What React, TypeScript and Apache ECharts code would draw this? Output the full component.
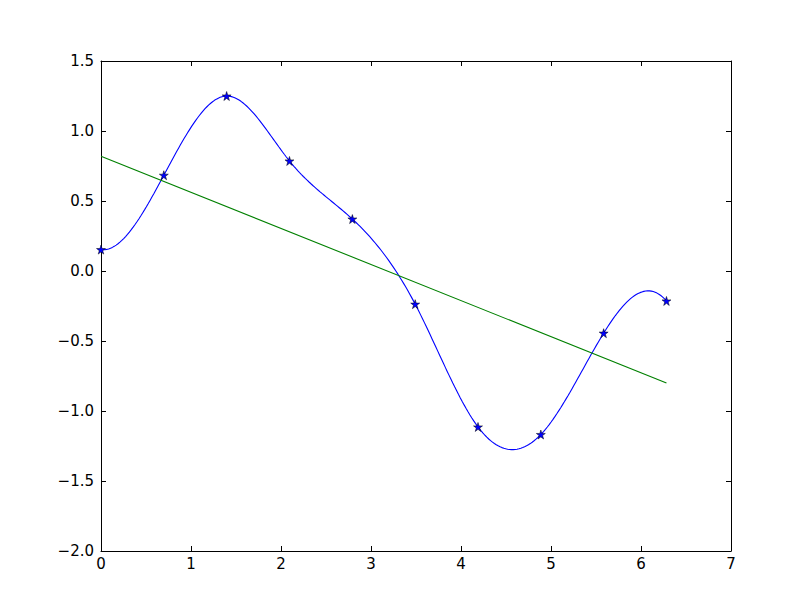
import React, { useEffect, useRef } from "react";
import * as echarts from "echarts";

// Sample points (stars)
const pointX = [0, 0.698, 1.396, 2.094, 2.793, 3.491, 4.189, 4.887, 5.585, 6.283];
const pointY = [0.153, 0.684, 1.25, 0.786, 0.371, -0.237, -1.114, -1.168, -0.444, -0.214];

// Linear fit line endpoints
const fitX = [0, 6.283];
const fitY = [0.82, -0.8];

// Axis ranges / ticks
const xTicks = [0, 1, 2, 3, 4, 5, 6, 7];
const yTicks = [-2.0, -1.5, -1.0, -0.5, 0.0, 0.5, 1.0, 1.5];

// Not-a-knot cubic spline through the sample points (as the original plot's interpolation)
function spline(xs: number[], ys: number[], count: number): number[][] {
  const n = xs.length;
  const h: number[] = [];
  for (let i = 0; i < n - 1; i++) h.push(xs[i + 1] - xs[i]);
  const A: number[][] = [];
  const b: number[] = [];
  for (let i = 0; i < n; i++) {
    A.push(new Array(n).fill(0));
    b.push(0);
  }
  A[0][0] = -h[1];
  A[0][1] = h[1] + h[0];
  A[0][2] = -h[0];
  for (let i = 1; i < n - 1; i++) {
    A[i][i - 1] = h[i - 1];
    A[i][i] = 2 * (h[i - 1] + h[i]);
    A[i][i + 1] = h[i];
    b[i] = 6 * ((ys[i + 1] - ys[i]) / h[i] - (ys[i] - ys[i - 1]) / h[i - 1]);
  }
  const m = n - 1;
  A[m][m - 2] = -h[m - 1];
  A[m][m - 1] = h[m - 1] + h[m - 2];
  A[m][m] = -h[m - 2];
  for (let c = 0; c < n; c++) {
    let p = c;
    for (let r = c + 1; r < n; r++) if (Math.abs(A[r][c]) > Math.abs(A[p][c])) p = r;
    [A[c], A[p]] = [A[p], A[c]];
    [b[c], b[p]] = [b[p], b[c]];
    for (let r = c + 1; r < n; r++) {
      const f = A[r][c] / A[c][c];
      for (let k = c; k < n; k++) A[r][k] -= f * A[c][k];
      b[r] -= f * b[c];
    }
  }
  const M = new Array(n).fill(0);
  for (let r = n - 1; r >= 0; r--) {
    let s = b[r];
    for (let k = r + 1; k < n; k++) s -= A[r][k] * M[k];
    M[r] = s / A[r][r];
  }
  const out: number[][] = [];
  const x0 = xs[0];
  const x1 = xs[n - 1];
  for (let j = 0; j < count; j++) {
    const x = x0 + ((x1 - x0) * j) / (count - 1);
    let i = 0;
    while (i < n - 2 && x > xs[i + 1]) i++;
    const hi = h[i];
    const a = xs[i + 1] - x;
    const d = x - xs[i];
    const y =
      (M[i] * a * a * a) / (6 * hi) +
      (M[i + 1] * d * d * d) / (6 * hi) +
      (ys[i] / hi - (M[i] * hi) / 6) * a +
      (ys[i + 1] / hi - (M[i + 1] * hi) / 6) * d;
    out.push([x, y]);
  }
  return out;
}

const STAR =
  "path://M0,-1 L0.2245,-0.309 L0.951,-0.309 L0.363,0.118 L0.588,0.809 L0,0.382 L-0.588,0.809 L-0.363,0.118 L-0.951,-0.309 L-0.2245,-0.309 Z";

const minus = (s: string) => s.replace("-", "\u2212");

function makeAxis(kind: "x" | "y", position: string, labels: boolean) {
  const ticks = kind === "x" ? xTicks : yTicks;
  return {
    type: "value",
    min: ticks[0],
    max: ticks[ticks.length - 1],
    interval: kind === "x" ? 1 : 0.5,
    position,
    axisLine: { show: true, onZero: false, lineStyle: { color: "#000", width: 1 } },
    axisTick: { show: true, inside: true, length: 5, lineStyle: { color: "#000", width: 1 } },
    splitLine: { show: false },
    axisLabel: {
      show: labels,
      fontFamily: "'DejaVu Sans', sans-serif",
      fontSize: 15,
      color: "#000",
      margin: kind === "x" ? 5 : 7,
      formatter: (v: number) => (kind === "x" ? minus(String(v)) : minus(v.toFixed(1))),
    },
  };
}

export default function App() {
  const ref = useRef<HTMLDivElement>(null);
  useEffect(() => {
    document.body.style.margin = "0";
    const chart = echarts.init(ref.current!, null, { renderer: "svg" });
    chart.setOption({
      animation: false,
      backgroundColor: "#fff",
      textStyle: { fontFamily: "'DejaVu Sans', sans-serif" },
      grid: { left: 101, right: 81, top: 61, bottom: 61, containLabel: false },
      xAxis: [makeAxis("x", "bottom", true), makeAxis("x", "top", false)],
      yAxis: [makeAxis("y", "left", true), makeAxis("y", "right", false)],
      series: [
        {
          type: "line",
          data: spline(pointX, pointY, 300),
          showSymbol: false,
          symbol: "none",
          lineStyle: { color: "#0000ff", width: 1.1 },
          z: 2,
        },
        {
          type: "line",
          data: fitX.map((x, i) => [x, fitY[i]]),
          showSymbol: false,
          symbol: "none",
          lineStyle: { color: "#008000", width: 1.1 },
          z: 3,
        },
        {
          type: "scatter",
          data: pointX.map((x, i) => [x, pointY[i]]),
          symbol: STAR,
          symbolSize: 9,
          itemStyle: { color: "#0000ff", borderColor: "#000", borderWidth: 0.5, opacity: 1 },
          z: 4,
        },
      ],
    });
    return () => chart.dispose();
  }, []);
  return (
    <div
      ref={ref}
      style={{ position: "absolute", left: 0, top: 0, width: 812, height: 612, background: "#fff" }}
    />
  );
}
